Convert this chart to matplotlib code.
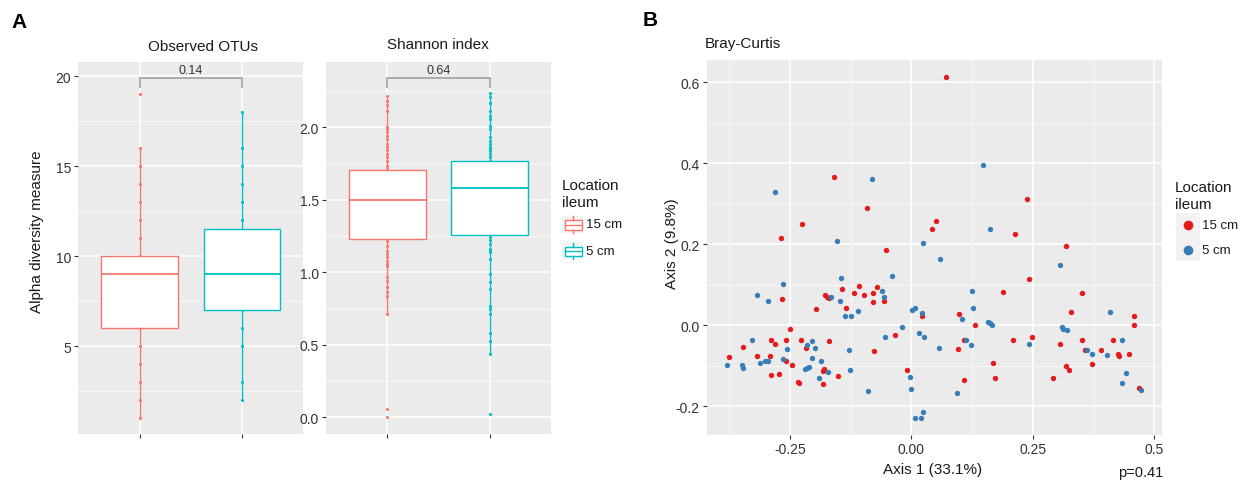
import matplotlib
matplotlib.use("Agg")
import matplotlib.pyplot as plt
from matplotlib.lines import Line2D
from matplotlib.patches import Rectangle
import numpy as np

plt.rcParams['font.family'] = ['Liberation Sans', 'DejaVu Sans']

W, H = 1249, 481

# ---- data: alpha diversity ----
groups = ['15 cm', '5 cm']
box_colors = ['#F8766D', '#00BFC4']

otu_15 = [1, 2, 3, 4, 5, 6, 7, 8, 9, 9, 10, 11, 12, 13, 14, 15, 16, 19]
otu_5 = [2, 3, 5, 6, 7, 8, 9, 9, 10, 11, 12, 13, 14, 15, 16, 18]
otu_stats = [dict(whislo=1, q1=6, med=9, q3=10, whishi=16),
             dict(whislo=2, q1=7, med=9, q3=11.5, whishi=18)]
otu_p = '0.14'

sh_15 = [2.214, 2.184, 2.154, 2.115, 2.0, 1.989, 1.966, 1.943, 1.920, 1.886,
         1.863, 1.840, 1.817, 1.793, 1.770, 1.736, 1.713, 1.60, 1.50, 1.40,
         1.30, 1.218, 1.184, 1.149, 1.126, 1.103, 1.080, 1.057, 1.046, 0.965,
         0.942, 0.896, 0.862, 0.839, 0.713, 0.058, 0.0]
sh_5 = [2.234, 2.207, 2.168, 2.115, 2.076, 2.057, 2.011, 1.988, 1.931, 1.908,
        1.885, 1.862, 1.851, 1.839, 1.816, 1.793, 1.770, 1.65, 1.55, 1.45,
        1.35, 1.241, 1.225, 1.195, 1.161, 1.149, 1.138, 1.092, 0.989, 0.931,
        0.885, 0.770, 0.747, 0.713, 0.582, 0.529, 0.437, 0.025]
sh_stats = [dict(whislo=0.713, q1=1.230, med=1.50, q3=1.708, whishi=2.214),
            dict(whislo=0.437, q1=1.255, med=1.579, q3=1.766, whishi=2.234)]
sh_p = '0.64'

# ---- data: Bray-Curtis PCoA ----
pc_15 = [(0.071, 0.613), (-0.159, 0.367), (-0.091, 0.289), (-0.225, 0.250), (0.050, 0.258),
         (0.042, 0.239), (-0.268, 0.216), (-0.053, 0.186), (0.238, 0.312), (0.214, 0.226),
         (0.318, 0.196), (0.242, 0.115), (0.188, 0.082), (0.351, 0.079), (0.098, 0.028),
         (0.328, 0.032), (0.457, 0.024), (0.459, 0.002), (0.130, 0.000), (0.249, -0.028),
         (0.210, -0.037), (0.108, -0.037), (0.095, -0.059), (0.306, -0.045), (0.352, -0.037),
         (0.414, -0.036), (0.358, -0.060), (0.391, -0.061), (0.426, -0.071), (0.428, -0.075),
         (0.448, -0.071), (0.167, -0.093), (0.372, -0.095), (0.319, -0.101), (0.325, -0.110),
         (0.109, -0.135), (0.173, -0.130), (0.291, -0.129), (0.469, -0.154),
         (-0.266, 0.065), (-0.142, 0.090), (-0.107, 0.096), (-0.070, 0.095), (-0.118, 0.079),
         (-0.098, 0.074), (-0.079, 0.079), (-0.057, 0.059), (-0.079, 0.057), (-0.177, 0.074),
         (-0.173, 0.071), (-0.169, 0.068), (-0.197, 0.041), (-0.135, 0.042), (0.021, 0.023),
         (-0.250, -0.010), (-0.033, -0.024), (-0.288, -0.037), (-0.281, -0.045), (-0.258, -0.037),
         (-0.228, -0.037), (-0.170, -0.039), (-0.346, -0.053), (-0.216, -0.057), (-0.076, -0.063),
         (-0.376, -0.079), (-0.318, -0.075), (-0.290, -0.075), (-0.258, -0.088), (-0.246, -0.099),
         (-0.288, -0.123), (-0.272, -0.121), (-0.179, -0.107), (-0.181, -0.113), (-0.150, -0.125),
         (-0.234, -0.140), (-0.232, -0.143), (-0.182, -0.144), (-0.009, -0.111)]
pc_5 = [(-0.080, 0.362), (-0.281, 0.330), (-0.152, 0.208), (0.023, 0.203), (0.059, 0.164),
        (-0.144, 0.117), (-0.040, 0.121), (0.148, 0.395), (0.161, 0.239), (0.306, 0.148),
        (0.125, 0.085), (0.127, 0.042), (0.105, 0.016), (0.409, 0.032), (0.158, 0.009),
        (0.162, 0.005), (0.166, 0.002), (0.057, -0.056), (0.310, -0.004), (0.312, -0.009),
        (0.321, -0.011), (0.243, -0.047), (0.112, -0.037), (0.123, -0.049), (0.434, -0.037),
        (0.361, -0.060), (0.372, -0.072), (0.403, -0.073), (0.441, -0.118), (0.434, -0.143),
        (0.473, -0.160), (0.094, -0.166),
        (-0.264, 0.103), (-0.317, 0.076), (-0.294, 0.060), (-0.060, 0.085), (-0.057, 0.070),
        (-0.165, 0.069), (-0.146, 0.059), (-0.110, 0.035), (-0.137, 0.024), (-0.124, 0.023),
        (0.001, 0.039), (0.008, 0.042), (0.021, 0.030), (-0.020, -0.003), (0.016, -0.018),
        (0.025, -0.028), (-0.054, -0.028), (-0.328, -0.037), (-0.204, -0.039), (-0.215, -0.048),
        (-0.256, -0.058), (-0.198, -0.056), (-0.129, -0.061), (-0.301, -0.088), (-0.294, -0.088),
        (-0.311, -0.093), (-0.264, -0.084), (-0.204, -0.081), (-0.185, -0.088), (-0.380, -0.097),
        (-0.348, -0.097), (-0.346, -0.105), (-0.218, -0.107), (-0.211, -0.102), (-0.214, -0.105),
        (-0.172, -0.114), (-0.126, -0.111), (-0.190, -0.131), (-0.089, -0.161), (-0.002, -0.127),
        (0.000, -0.158), (0.024, -0.213), (0.007, -0.230), (0.020, -0.228)]
pc_colors = ['#E41A1C', '#377EB8']
x_ticks = [-0.25, 0.0, 0.25, 0.5]
x_ticklabels = ['-0.25', '0.00', '0.25', '0.5']
y_ticks = [-0.2, 0.0, 0.2, 0.4, 0.6]
y_ticklabels = ['-0.2', '0.0', '0.2', '0.4', '0.6']

PANEL = '#EBEBEB'
TICK = '#333333'


def fx(x):
    return x / W


def fy(y):
    return 1 - y / H


def rect(l, t, r, b):
    return [fx(l), fy(b), (r - l) / W, (b - t) / H]


def style(ax):
    ax.set_facecolor(PANEL)
    for s in ax.spines.values():
        s.set_visible(False)
    ax.grid(True, which='major', color='white', lw=1.1)
    ax.grid(True, which='minor', color='white', lw=0.5)
    ax.set_axisbelow(True)
    ax.tick_params(which='major', length=3, width=0.8, color=TICK, labelcolor=TICK,
                   labelsize=10, pad=2)
    ax.tick_params(which='minor', length=0)


fig = plt.figure(figsize=(W / 100, H / 100), dpi=100)

# ---- box plots ----
def boxpanel(ax, vals, stats, ylim, yticks, yticklabels, minor, ptxt, br):
    style(ax)
    for i, (v, c) in enumerate(zip(vals, box_colors)):
        ax.scatter(np.full(len(v), i + 1), v, s=5, color=c, zorder=2, lw=0)
    for i, st in enumerate(stats):
        st = dict(st)
        st['fliers'] = []
        ax.bxp([st], positions=[i + 1], widths=0.75, patch_artist=True, showfliers=False,
               showcaps=False,
               boxprops=dict(facecolor='white', edgecolor=box_colors[i], lw=1.0),
               medianprops=dict(color=box_colors[i], lw=1.3),
               whiskerprops=dict(color=box_colors[i], lw=1.0),
               manage_ticks=False, zorder=3)
    ax.set_xlim(0.4, 2.6)
    ax.set_ylim(*ylim)
    ax.set_xticks([1, 2])
    ax.set_xticklabels(['', ''])
    ax.set_yticks(yticks)
    ax.set_yticklabels(yticklabels)
    ax.set_yticks(minor, minor=True)
    ax.grid(False, axis='x', which='minor')
    lo, hi, ty = br
    ax.plot([1, 1, 2, 2], [lo, hi, hi, lo], color='#A0A0A0', lw=1.2, clip_on=False, zorder=4)
    ax.text(1.5, ty, ptxt, ha='center', va='center', fontsize=9, color='#333333')


ax1 = fig.add_axes(rect(78.3, 62.7, 303.3, 435))
boxpanel(ax1, [otu_15, otu_5], otu_stats, (0.13, 20.8), [5, 10, 15, 20],
         ['5', '10', '15', '20'], [2.5, 7.5, 12.5, 17.5], otu_p, (19.39, 19.9, 20.35))

ax2 = fig.add_axes(rect(326, 62.7, 551, 435))
boxpanel(ax2, [sh_15, sh_5], sh_stats, (-0.115, 2.452), [0, 0.5, 1, 1.5, 2],
         ['0.0', '0.5', '1.0', '1.5', '2.0'], [0.25, 0.75, 1.25, 1.75, 2.25], sh_p,
         (2.276, 2.34, 2.395))

fig.text(fx(203), fy(47), 'Observed OTUs', ha='center', va='center', fontsize=11, color='#1A1A1A')
fig.text(fx(437.5), fy(45), 'Shannon index', ha='center', va='center', fontsize=11, color='#1A1A1A')
fig.text(fx(36.7), fy(232), 'Alpha diversity measure', rotation=90, ha='center', va='center',
         fontsize=11, color='#1A1A1A')

# left legend
fig.text(fx(561.7), fy(186), 'Location', ha='left', va='center', fontsize=11, color='#1A1A1A')
fig.text(fx(561.7), fy(203), 'ileum', ha='left', va='center', fontsize=11, color='#1A1A1A')
for i, (g, c) in enumerate(zip(groups, box_colors)):
    top = 216.5 + i * 26.5
    fig.add_artist(Rectangle((fx(561.7), fy(top + 17)), 21.6 / W, 17 / H,
                             transform=fig.transFigure, facecolor='#F2F2F2', edgecolor='none'))
    fig.add_artist(Rectangle((fx(564.5), fy(top + 14)), 17.5 / W, 9.5 / H,
                             transform=fig.transFigure, facecolor='white', edgecolor=c, lw=1.0))
    fig.add_artist(Line2D([fx(564.5), fx(582)], [fy(top + 9.3), fy(top + 9.3)],
                          transform=fig.transFigure, color=c, lw=1.0))
    fig.add_artist(Line2D([fx(573.2), fx(573.2)], [fy(top + 0.5), fy(top + 4.5)],
                          transform=fig.transFigure, color=c, lw=1.0))
    fig.add_artist(Line2D([fx(573.2), fx(573.2)], [fy(top + 14), fy(top + 17)],
                          transform=fig.transFigure, color=c, lw=1.0))
    fig.text(fx(586.5), fy(top + 9), g, ha='left', va='center', fontsize=9.5, color='#1A1A1A')

# ---- PCoA scatter ----
ax3 = fig.add_axes(rect(706.7, 61, 1161.7, 435.7))
style(ax3)
for pts, c in zip([pc_15, pc_5], pc_colors):
    arr = np.array(pts)
    ax3.scatter(arr[:, 0], arr[:, 1], s=15, color=c, lw=0, zorder=3)
ax3.set_xlim(-0.421, 0.515)
ax3.set_ylim(-0.27, 0.655)
ax3.set_xticks(x_ticks)
ax3.set_xticklabels(x_ticklabels)
ax3.set_yticks(y_ticks)
ax3.set_yticklabels(y_ticklabels)
ax3.set_xticks([-0.375, -0.125, 0.125, 0.375], minor=True)
ax3.set_yticks([-0.1, 0.1, 0.3, 0.5], minor=True)

fig.text(fx(705), fy(44), 'Bray-Curtis', ha='left', va='center', fontsize=11, color='#1A1A1A')
fig.text(fx(933), fy(470), 'Axis 1 (33.1%)', ha='center', va='center', fontsize=11, color='#1A1A1A')
fig.text(fx(671.7), fy(244), 'Axis 2 (9.8%)', rotation=90, ha='center', va='center',
         fontsize=11, color='#1A1A1A')
fig.text(fx(1163), fy(473), 'p=0.41', ha='right', va='center', fontsize=10.5, color='#1A1A1A')

# right legend
fig.text(fx(1175), fy(188), 'Location', ha='left', va='center', fontsize=11, color='#1A1A1A')
fig.text(fx(1175), fy(205), 'ileum', ha='left', va='center', fontsize=11, color='#1A1A1A')
fig.add_artist(Rectangle((fx(1176), fy(262)), 24 / W, 48 / H, transform=fig.transFigure,
                         facecolor='#F2F2F2', edgecolor='none'))
for i, (g, c) in enumerate(zip(groups, pc_colors)):
    yc = 225.7 + i * 25
    fig.add_artist(Line2D([fx(1188.3)], [fy(yc)], transform=fig.transFigure, marker='o',
                          ms=7, color=c, mew=0, ls='none'))
    fig.text(fx(1202), fy(yc), g, ha='left', va='center', fontsize=9.5, color='#1A1A1A')

# panel letters
fig.text(fx(11), fy(22), 'A', ha='left', va='center', fontsize=15, fontweight='bold')
fig.text(fx(643), fy(21), 'B', ha='left', va='center', fontsize=15, fontweight='bold')

fig.savefig('out.png', dpi=100)
